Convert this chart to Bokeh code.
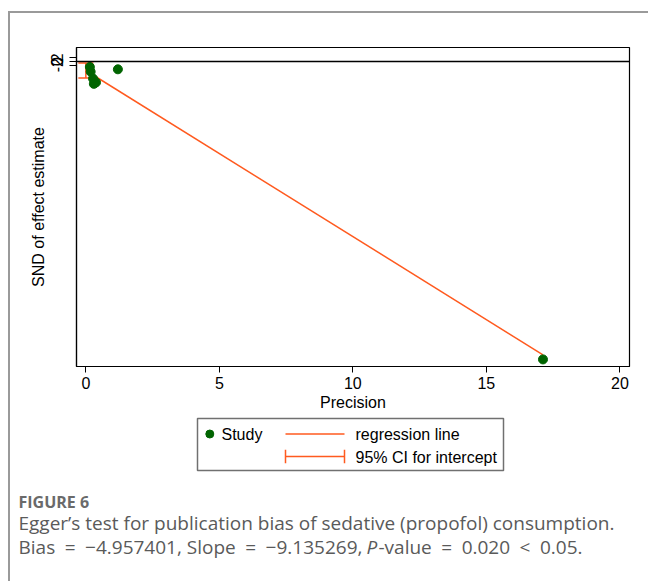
import numpy as np
from bokeh.plotting import figure
from bokeh.layouts import column
from bokeh.models import (Range1d, FixedTicker, Span, Whisker, ColumnDataSource, TeeHead)
from bokeh.core.properties import value
from bokeh.embed import file_html
from bokeh.resources import INLINE

# ---- data ----
precision = [0.15, 0.18, 0.27, 0.38, 0.30, 1.20, 17.12]
snd = [-3.0, -5.6, -9.4, -11.5, -12.3, -4.3, -163.9]
bias = -4.957401          # intercept of Egger regression
slope = -9.135269
ci_low = -9.1
ci_high = -0.8
x_ticks = [0, 5, 10, 15, 20]
y_ticks = [-2, 0, 2]
y_tick_labels = ["-2", "0", "2"]

GREEN = "#006400"
ORANGE = "#ff5a1f"
FONT = "Liberation Sans"
CAP_FONT = "Open Sans"

OX, OY = 10, 13   # page offset of the figures (inside the outer frame)

# ================= main chart =================
W1, H1 = 638, 403
p = figure(width=W1, height=H1, output_backend="svg", toolbar_location=None,
           x_range=Range1d(-0.35, 20.36), y_range=Range1d(-167.8, 7.7),
           min_border_left=66, min_border_top=34, min_border_right=19,
           min_border_bottom=50)
p.background_fill_color = "white"
p.border_fill_color = "white"
p.outline_line_color = "black"
p.outline_line_width = 1.2
p.xgrid.visible = False
p.ygrid.visible = False

p.xaxis.ticker = FixedTicker(ticks=x_ticks)
p.yaxis.ticker = FixedTicker(ticks=y_ticks)
p.yaxis.major_label_overrides = {t: l for t, l in zip(y_ticks, y_tick_labels)}
p.yaxis.major_label_orientation = "vertical"
for ax in (p.xaxis, p.yaxis):
    ax.axis_line_color = "black"
    ax.axis_line_width = 1.2
    ax.major_tick_line_color = "black"
    ax.major_tick_line_width = 1
    ax.major_tick_in = 0
    ax.minor_tick_line_color = None
    ax.major_label_text_font = FONT
    ax.major_label_text_font_size = "16px"
    ax.major_label_text_color = "black"
    ax.axis_label_text_font = FONT
    ax.axis_label_text_font_size = "16px"
    ax.axis_label_text_font_style = "normal"
    ax.axis_label_text_color = "black"
p.xaxis.major_tick_out = 6
p.yaxis.major_tick_out = 7
p.xaxis.major_label_standoff = 4
p.yaxis.major_label_standoff = 6
p.xaxis.axis_label = "Precision"
p.yaxis.axis_label = "SND of effect estimate"
p.xaxis.axis_label_standoff = 2
p.yaxis.axis_label_standoff = 2

p.add_layout(Span(location=0, dimension="width", line_color="black", line_width=1.5))

reg_x = np.array([0.0, max(precision)])
reg_y = bias + slope * reg_x
p.line(reg_x, reg_y, line_color=ORANGE, line_width=1.5)

ci_src = ColumnDataSource(dict(base=[0.0], lower=[ci_low], upper=[ci_high]))
p.add_layout(Whisker(base="base", lower="lower", upper="upper", source=ci_src,
                     dimension="height", line_color=ORANGE, line_width=1.5,
                     upper_head=TeeHead(size=15, line_color=ORANGE, line_width=1.5),
                     lower_head=TeeHead(size=15, line_color=ORANGE, line_width=1.5)))

p.scatter(precision, snd, size=9, fill_color=GREEN, line_color=GREEN)

# ================= legend + caption (page-pixel coordinates) =================
Y2 = OY + H1          # page y where the second figure starts
W2, H2 = 638, 165
q = figure(width=W2, height=H2, output_backend="svg", toolbar_location=None,
           x_range=Range1d(OX, OX + W2), y_range=Range1d(Y2 + H2, Y2),
           min_border=0, min_border_left=0, min_border_right=0,
           min_border_top=0, min_border_bottom=0)
q.axis.visible = False
q.grid.visible = False
q.outline_line_color = None
q.background_fill_color = "white"
q.border_fill_color = "white"

for fig in (p, q):
    if "frame_align" in fig.properties():
        fig.frame_align = False

# legend box
q.quad(left=[197], right=[503], top=[418], bottom=[470], fill_color="white",
       line_color="#707070", line_width=1.5)
q.scatter([209.3], [433.5], size=8, fill_color=GREEN, line_color=GREEN)
q.segment(x0=[285], y0=[433.5], x1=[344], y1=[433.5], line_color=ORANGE, line_width=1.5)
q.segment(x0=[285, 285, 344], y0=[456, 449.3, 449.3], x1=[344, 285, 344],
          y1=[456, 462.7, 462.7], line_color=ORANGE, line_width=1.5)

def txt(x, y, t, size="16px", font=FONT, color="black", style="normal"):
    q.text(x=[x], y=[y], text=[t], text_font=value(font), text_font_size=size,
           text_color=color, text_font_style=style, text_baseline="middle",
           text_align="left")

txt(221, 433.5, "Study")
txt(355, 433.5, "regression line")
txt(355, 456.5, "95% CI for intercept")

EN = "\u2002"
txt(18, 501, "FIGURE 6", size="16px", font=CAP_FONT, color="#6a6a6a", style="bold")
txt(18, 522, "Egger\u2019s test for publication bias of sedative (propofol) consumption.",
    size="19px", font=CAP_FONT, color="#5a5a5a")
txt(18, 546, f"Bias{EN}={EN}\u22124.957401, Slope{EN}={EN}\u22129.135269,",
    size="19px", font=CAP_FONT, color="#5a5a5a")
txt(366, 546, "P", size="19px", font=CAP_FONT, color="#5a5a5a", style="italic")
txt(378, 546, f"-value{EN}={EN}0.020{EN}<{EN}0.05.", size="19px", font=CAP_FONT,
    color="#5a5a5a")

layout = column(p, q, spacing=0,
                styles={"border-left": "2px solid #9a9a9a",
                        "border-top": "2px solid #9a9a9a",
                        "margin-left": "8px", "margin-top": "11px"})

open("out.html", "w").write(file_html(layout, INLINE))
